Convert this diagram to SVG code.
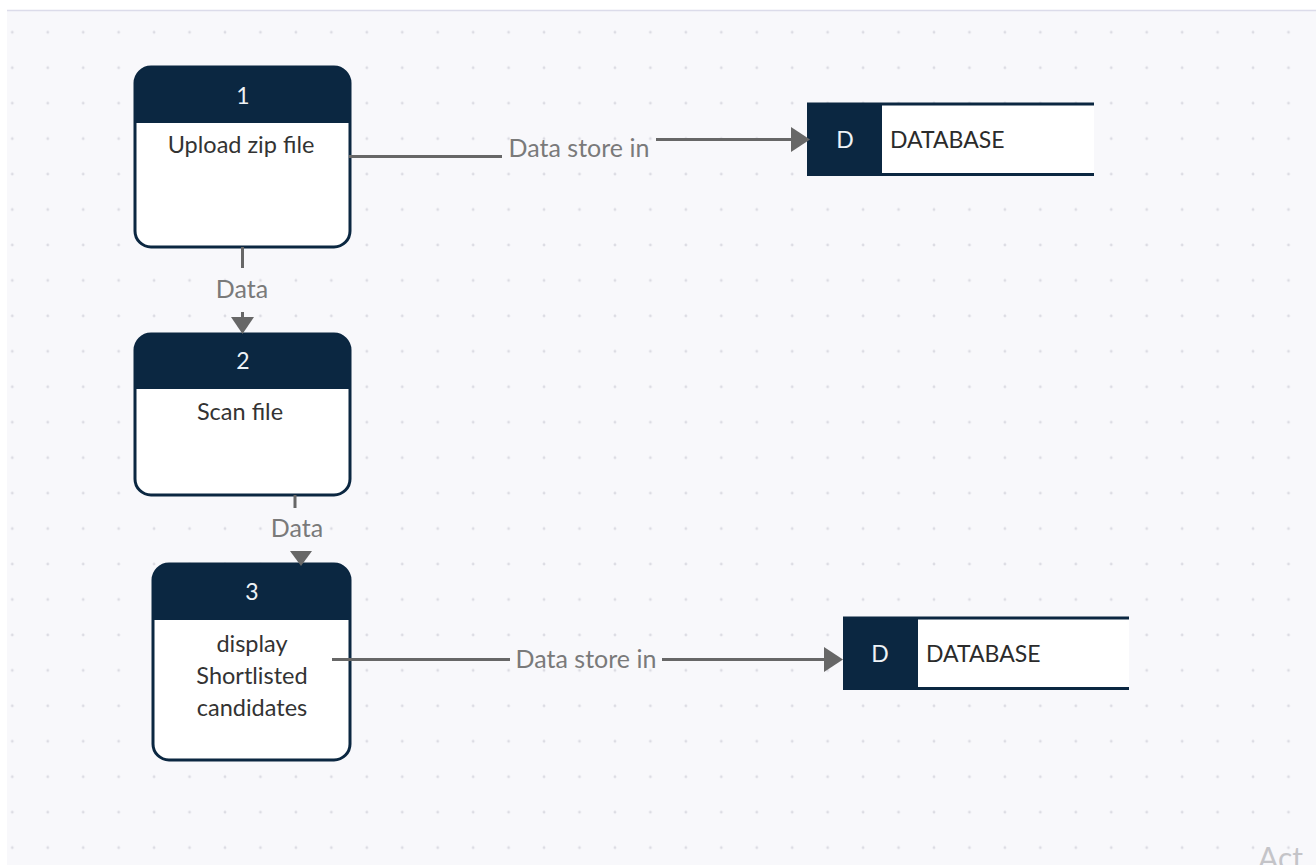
<svg xmlns="http://www.w3.org/2000/svg" width="1316" height="865" viewBox="0 0 1316 865">
  <style>
    .txt { font-family: Lato, "Noto Sans", "Liberation Sans", sans-serif; }
    .num { fill: #eef2f6; font-size: 23px; text-anchor: middle; }
    .body { fill: #333333; font-size: 23.5px; text-anchor: middle; }
    .lbl { fill: #7a7a7a; font-size: 25px; text-anchor: middle; }
    .db { fill: #2b2b2b; font-size: 23px; }
    .dbk { fill: #eef2f6; font-size: 23px; text-anchor: middle; }
    .box { fill: #ffffff; stroke: #0b2741; stroke-width: 3; }
    .head { fill: #0b2741; }
    .flow { fill: none; stroke: #676767; stroke-width: 3; }
    .tip { fill: #676767; }
  </style>
  <defs>
    <pattern id="dots" patternUnits="userSpaceOnUse" x="-5.425" y="14.575" width="35.45" height="35.45">
      <circle cx="17.725" cy="17.725" r="1.4" fill="#dcdce3"/>
    </pattern>
  </defs>

  <!-- canvas -->
  <rect x="0" y="0" width="1316" height="865" fill="#ffffff"/>
  <rect x="7" y="11" width="1309" height="854" fill="#f8f8fb"/>
  <rect x="7" y="11" width="1309" height="854" fill="url(#dots)"/>
  <line x1="7" y1="10.5" x2="1316" y2="10.5" stroke="#dcdcea" stroke-width="1.5"/>

  <!-- process 1 -->
  <g id="node-1">
    <rect class="box" x="135" y="67" width="215" height="180" rx="16"/>
    <path class="head" d="M135,123 V83 a16,16 0 0 1 16,-16 H334 a16,16 0 0 1 16,16 V123 Z"/>
    <text class="txt num" x="243" y="104">1</text>
    <text class="txt body" x="241" y="153">Upload zip file</text>
  </g>

  <!-- process 2 -->
  <g id="node-2">
    <rect class="box" x="135" y="334" width="215" height="161" rx="16"/>
    <path class="head" d="M135,389 V350 a16,16 0 0 1 16,-16 H334 a16,16 0 0 1 16,16 V389 Z"/>
    <text class="txt num" x="243" y="369">2</text>
    <text class="txt body" x="240" y="420">Scan file</text>
  </g>

  <!-- process 3 -->
  <g id="node-3">
    <rect class="box" x="153" y="564" width="197" height="196" rx="16"/>
    <path class="head" d="M153,620 V580 a16,16 0 0 1 16,-16 H334 a16,16 0 0 1 16,16 V620 Z"/>
    <text class="txt num" x="252" y="600">3</text>
    <text class="txt body" x="252" y="652">display</text>
    <text class="txt body" x="252" y="684">Shortlisted</text>
    <text class="txt body" x="252" y="716">candidates</text>
  </g>

  <!-- data store (top) -->
  <g id="store-1">
    <rect x="807" y="103" width="287" height="73" fill="#ffffff"/>
    <rect x="807" y="103" width="75" height="73" fill="#0b2741"/>
    <line x1="807" y1="104" x2="1094" y2="104" stroke="#0b2741" stroke-width="3"/>
    <line x1="807" y1="174.5" x2="1094" y2="174.5" stroke="#0b2741" stroke-width="3"/>
    <text class="txt dbk" x="845" y="148">D</text>
    <text class="txt db" x="890" y="148">DATABASE</text>
  </g>

  <!-- data store (bottom) -->
  <g id="store-2">
    <rect x="843" y="617" width="286" height="73" fill="#ffffff"/>
    <rect x="843" y="617" width="75" height="73" fill="#0b2741"/>
    <line x1="843" y1="618" x2="1129" y2="618" stroke="#0b2741" stroke-width="3"/>
    <line x1="843" y1="688.5" x2="1129" y2="688.5" stroke="#0b2741" stroke-width="3"/>
    <text class="txt dbk" x="880" y="662">D</text>
    <text class="txt db" x="926" y="662">DATABASE</text>
  </g>

  <!-- data flows -->
  <g id="connectors">
    <!-- 1 -> store 1 -->
    <line class="flow" x1="349" y1="156.5" x2="502" y2="156.5"/>
    <line class="flow" x1="656" y1="139.5" x2="794" y2="139.5"/>
    <path class="tip" d="M791,127 L810,139.5 L791,152 Z"/>
    <text class="txt lbl" x="579" y="157">Data store in</text>

    <!-- 1 -> 2 -->
    <line class="flow" x1="242.5" y1="247" x2="242.5" y2="268"/>
    <line class="flow" x1="242.5" y1="312" x2="242.5" y2="320"/>
    <path class="tip" d="M231,317 L254,317 L242.5,334 Z"/>
    <text class="txt lbl" x="242" y="298">Data</text>

    <!-- 2 -> 3 -->
    <line class="flow" x1="295" y1="495" x2="295" y2="508"/>
    <path class="tip" d="M290,551 L312,551 L301,566 Z"/>
    <text class="txt lbl" x="297" y="537">Data</text>

    <!-- 3 -> store 2 -->
    <line class="flow" x1="332" y1="659.5" x2="510" y2="659.5"/>
    <line class="flow" x1="662" y1="659.5" x2="826" y2="659.5"/>
    <path class="tip" d="M824,647 L843,659.5 L824,672 Z"/>
    <text class="txt lbl" x="586" y="668">Data store in</text>
  </g>

  <text class="txt" x="1258" y="869" font-size="30" fill="#c4c4c8">Act</text>
</svg>
